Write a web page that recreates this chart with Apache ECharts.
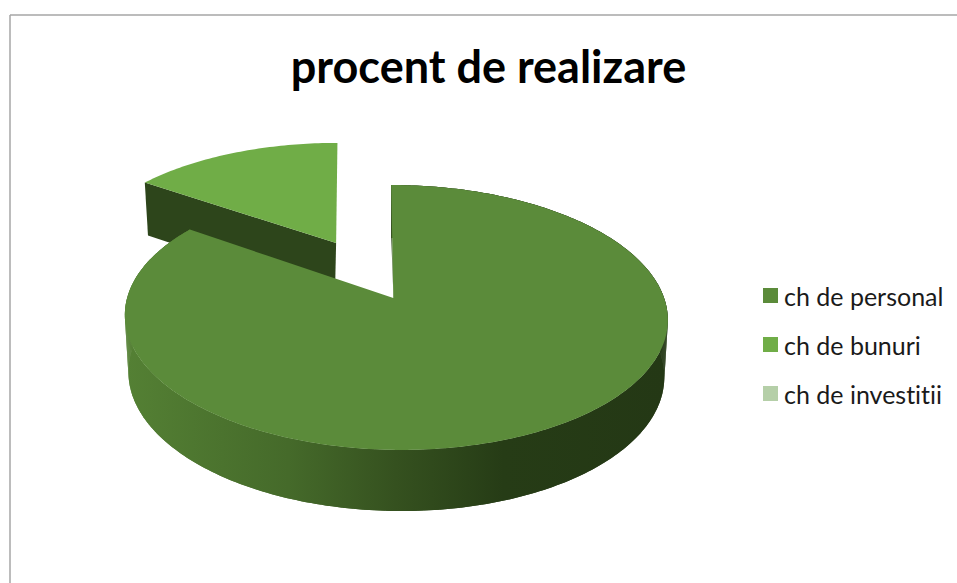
<!DOCTYPE html>
<html>
<head>
<meta charset="utf-8">
<title>procent de realizare</title>
<style>
html, body { margin: 0; padding: 0; background: #fff; }
#main { width: 957px; height: 583px; }
#main text { font-variant-ligatures: none; }
</style>
<script src="https://cdn.jsdelivr.net/npm/echarts@6/dist/echarts.min.js"></script>
</head>
<body>
<div id="main"></div>
<script>
// data (percent of the whole pie)
var categories = ['ch de personal', 'ch de bunuri', 'ch de investitii'];
var values = [84.7, 15.3, 0];

// one colour per category, for the top face and legend
var topColors = ['#5b8b3a', '#70ad47', '#b5cfa8'];
var sideColor = '#2d451b';

// the pie is a unit circle seen through a perspective projection
var topPlane = { x: 395.6, y: 298, a: 129.6, b: 268.5, k: 0.147, s: -5 };
var bottomPlane = { x: 395.6, y: 354.4, a: 133.6, b: 265, k: 0.147, s: -5 };
var explodedName = 'ch de bunuri';
var explodeBy = 0.51;
var mainApexShift = -2.3;
var explodedApexShift = 2;

var total = values.reduce(function (a, b) { return a + b; }, 0);

function project(plane, u, v) {
	var w = 1 + plane.k * v;
	return [plane.x + (plane.b * u + plane.s * v) / w, plane.y - plane.a * v / w];
}

// points along the rim, theta is clockwise from 12 o'clock
function rim(plane, from, to, du, dv) {
	var pts = [];
	var steps = Math.max(2, Math.ceil((to - from) / (Math.PI / 180)));
	for (var i = 0; i <= steps; i++) {
		var t = from + (to - from) * i / steps;
		pts.push(project(plane, Math.sin(t) + du, Math.cos(t) + dv));
	}
	return pts;
}

function poly(points, fill) {
	return { type: 'polygon', shape: { points: points }, style: { fill: fill }, silent: true };
}

function renderSlice(index, name, params, api) {
	var value = api.value(0);
	if (!value) {
		return { type: 'group', children: [] };
	}
	var before = 0;
	for (var i = 0; i < index; i++) {
		before += values[i];
	}
	var from = before / total * Math.PI * 2;
	var to = (before + value) / total * Math.PI * 2;
	var mid = (from + to) / 2;
	var exploded = name === explodedName;
	var du = exploded ? Math.sin(mid) * explodeBy : 0;
	var dv = exploded ? Math.cos(mid) * explodeBy : 0;

	var topRim = rim(topPlane, from, to, du, dv);
	var bottomRim = rim(bottomPlane, from, to, du, dv);
	var topApex = project(topPlane, du, dv);
	var bottomApex = project(bottomPlane, du, dv);
	topApex[0] += exploded ? explodedApexShift : mainApexShift;

	var last = topRim.length - 1;
	var children = [];
	if (exploded) {
		// sits at the back, only the near cut face can be seen
		children.push(poly([topRim[0], topApex, bottomApex, bottomRim[0]], sideColor));
	} else {
		var wallFill = new echarts.graphic.LinearGradient(
			topPlane.x - topPlane.b, 0, topPlane.x + topPlane.b, 0, [
				{ offset: 0, color: '#548034' },
				{ offset: 0.3, color: '#456a2a' },
				{ offset: 0.5, color: '#35511f' },
				{ offset: 0.7, color: '#263c16' },
				{ offset: 1, color: '#243815' }
			], true);
		children.push(poly([topRim[0], topApex, bottomApex, bottomRim[0]], sideColor));
		// outer wall, the whole band first so the strips leave no seams
		children.push(poly(topRim.concat(bottomRim.slice().reverse()), wallFill));
		for (var j = 0; j < last; j++) {
			children.push(poly([topRim[j], topRim[j + 1], bottomRim[j + 1], bottomRim[j]], wallFill));
		}
	}
	// top face
	children.push(poly([topApex].concat(topRim), api.visual('color')));

	return { type: 'group', children: children };
}

var series = categories.map(function (name, i) {
	return {
		name: name,
		type: 'custom',
		coordinateSystem: 'none',
		z: name === explodedName ? 2 : 3,
		itemStyle: { color: topColors[i] },
		renderItem: function (params, api) {
			return renderSlice(i, name, params, api);
		},
		data: [values[i]]
	};
});

// svg renderer, so the css above can switch off the "ti" ligature
var myChart = echarts.init(document.getElementById('main'), null, { renderer: 'svg' });

myChart.setOption({
	animation: false,
	backgroundColor: '#ffffff',
	title: {
		text: 'procent de realizare',
		left: 483.5,
		top: 38,
		textAlign: 'center',
		textStyle: {
			fontFamily: 'Lato',
			fontSize: 45,
			fontWeight: 'bold',
			color: '#000000'
		}
	},
	legend: {
		data: categories,
		orient: 'vertical',
		left: 763,
		top: 283,
		padding: 0,
		icon: 'rect',
		itemWidth: 15,
		itemHeight: 15,
		itemGap: 24,
		selectedMode: false,
		textStyle: {
			fontFamily: 'Lato',
			fontSize: 25,
			color: '#1a1a1a',
			padding: [0, 0, 0, 1]
		}
	},
	graphic: [
		{ type: 'line', shape: { x1: 10, y1: 15, x2: 957, y2: 15 }, style: { stroke: '#a6a6a6', lineWidth: 1.5 }, silent: true },
		{ type: 'line', shape: { x1: 10, y1: 15, x2: 10, y2: 583 }, style: { stroke: '#a6a6a6', lineWidth: 1.5 }, silent: true }
	],
	series: series
});
</script>
</body>
</html>
